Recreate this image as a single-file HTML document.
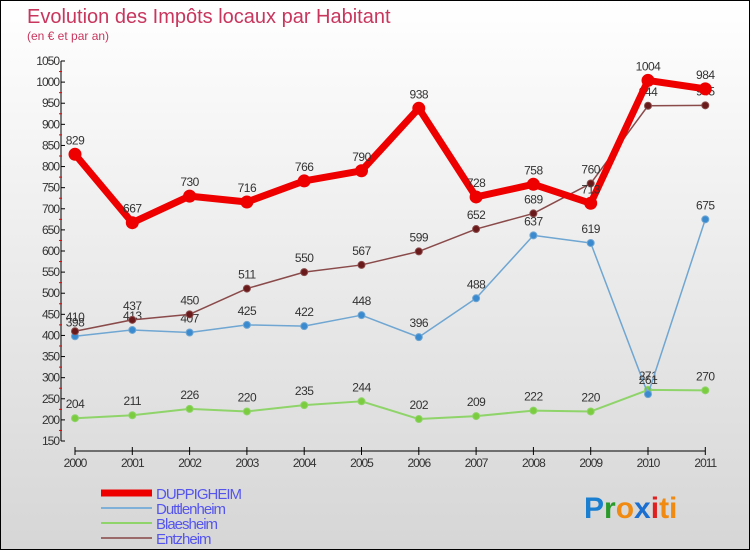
<!DOCTYPE html>
<html><head><meta charset="utf-8"><style>
html,body{margin:0;padding:0}
body{width:750px;height:550px;overflow:hidden;font-family:"Liberation Sans",sans-serif}
#wrap{position:relative;width:748px;height:548px;border:1px solid #000;background:linear-gradient(#fff,#d6d6d6)}
svg{position:absolute;left:0;top:0}
</style></head><body>
<div id="wrap">
<svg id="chart" width="748" height="548">
<text x="26" y="22" font-size="20" fill="#c8365e">Evolution des Impôts locaux par Habitant</text>
<text x="26" y="39" font-size="12" fill="#c8365e">(en € et par an)</text>
<g id="axes"></g><g id="series"></g><g id="legend"></g>
<text x="583" y="517" font-size="30" font-weight="bold"><tspan fill="#1a7fd0">P</tspan><tspan fill="#2a9a2a">r</tspan><tspan fill="#f08a10">o</tspan><tspan fill="#1a6fd0">x</tspan><tspan fill="#e02020">i</tspan><tspan fill="#f08a10">ti</tspan></text>
</svg></div>
<script>
const years=["2000","2001","2002","2003","2004","2005","2006","2007","2008","2009","2010","2011"];
const yTicks=[150,200,250,300,350,400,450,500,550,600,650,700,750,800,850,900,950,1000,1050];
const duppigheim=[829,667,730,716,766,790,938,728,758,713,1004,984];
const duttlenheim=[398,413,407,425,422,448,396,488,637,619,261,675];
const blaesheim=[204,211,226,220,235,244,202,209,222,220,271,270];
const entzheim=[410,437,450,511,550,567,599,652,689,760,944,945];
const NS="http://www.w3.org/2000/svg";
function X(i){return 74+i*57.3;}
function Y(v){return 440-(v-150)*(380/900);}
function mk(t,a,p){const e=document.createElementNS(NS,t);for(const k in a)e.setAttribute(k,a[k]);p.appendChild(e);return e;}
const ax=document.getElementById('axes');
let e=mk('line',{x1:60,y1:Y(1050),x2:60,y2:Y(150),stroke:'#000'},ax);


yTicks.forEach((v,i)=>{
 let t=mk('line',{x1:60,y1:Y(v),x2:64,y2:Y(v),stroke:'#000'},ax);
 
 
 if(i<yTicks.length-1){let m=mk('line',{x1:58,y1:Y(v+25),x2:61,y2:Y(v+25),stroke:'#e00'},ax);
 
 }
 let l=mk('text',{x:58,y:Y(v)+4,'font-size':12,'text-anchor':'end',fill:'#333','letter-spacing':'-1'},ax);l.textContent=v;
 
 
});
e=mk('line',{x1:X(0),y1:450,x2:X(11),y2:450,stroke:'#000'},ax);


years.forEach((y,i)=>{
 let t=mk('line',{x1:X(i),y1:446,x2:X(i),y2:454,stroke:'#000'},ax);
 
 
 let l=mk('text',{x:X(i),y:466,'font-size':12,'text-anchor':'middle',fill:'#333','letter-spacing':'-1'},ax);l.textContent=y;
 
 
});
const sg=document.getElementById('series');
function draw(vals,color,w,r,dot,name){
 const g=mk('g',{},sg);
 
 
 let p=mk('polyline',{points:vals.map((v,i)=>X(i)+','+Y(v)).join(' '),fill:'none',stroke:color,'stroke-width':w,'stroke-linejoin':'round'},g);
 
 
 vals.forEach((v,i)=>{
  let c=mk('circle',{cx:X(i),cy:Y(v),r:r,fill:dot,stroke:color,'stroke-width':1},g);
  
  
  let t=mk('text',{x:X(i),y:Y(v)-10,'font-size':12,'text-anchor':'middle',fill:'#333','letter-spacing':'-0.5'},g);t.textContent=v;
  
  
 });
}
draw(blaesheim,'#8fd46a',2,3.5,'#7ccc40','blaesheim');
draw(duttlenheim,'#6fa6d2',1.5,3.5,'#3a8ad0','duttlenheim');
draw(entzheim,'#8a4a4a',1.5,3.5,'#6a1a1a','entzheim');
draw(duppigheim,'#ee0000',7,6,'#ee0000','duppigheim');
const lg=document.getElementById('legend');
[['DUPPIGHEIM','#ee0000',7],['Duttlenheim','#7fb0d8',2],['Blaesheim','#8fd46a',2],['Entzheim','#9a6a6a',2]].forEach((s,i)=>{
 const y=492+i*15;
 let l=mk('line',{x1:100,y1:y,x2:151,y2:y,stroke:s[1],'stroke-width':s[2]},lg);
 
 
 let t=mk('text',{x:155,y:y+6,'font-size':15,fill:'#5555ee','letter-spacing':'-1'},lg);t.textContent=s[0];
 
 
});
</script></body></html>
